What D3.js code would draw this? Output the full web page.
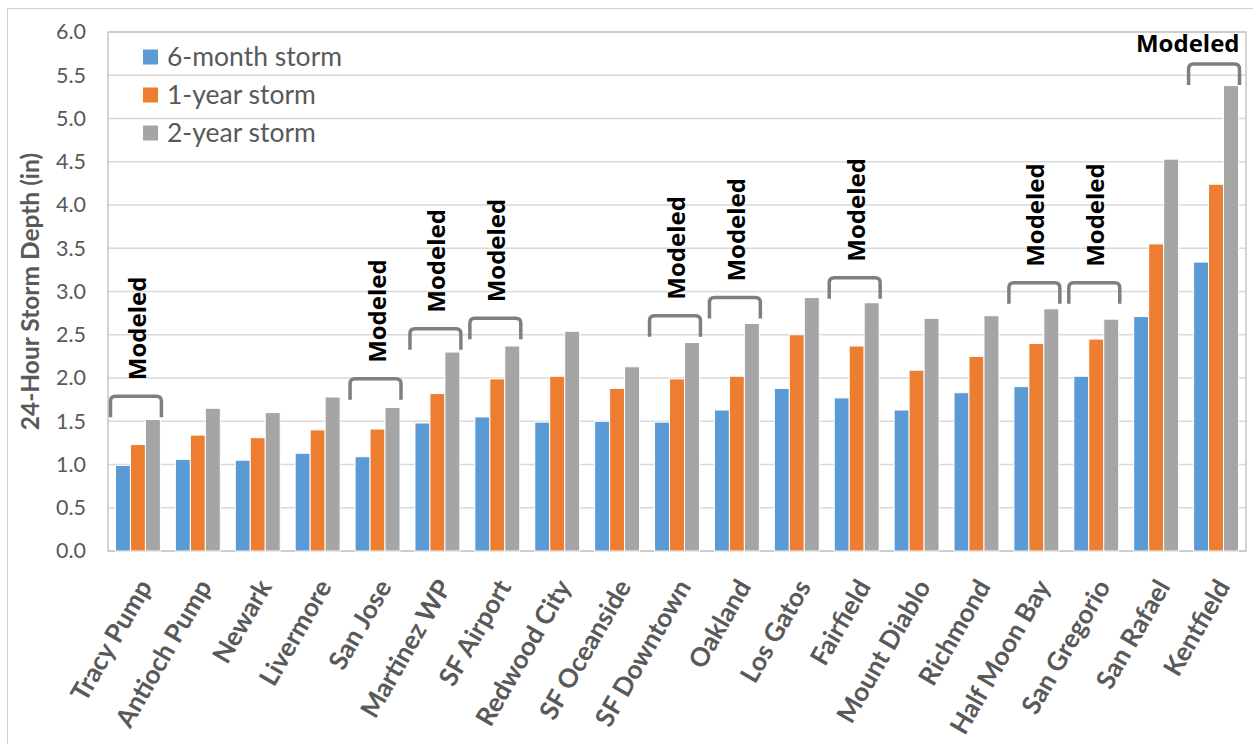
<!DOCTYPE html>
<html><head><meta charset="utf-8">
<script src="https://cdn.jsdelivr.net/npm/d3@7"></script>
<style>html,body{margin:0;padding:0;background:#fff;overflow:hidden}</style>
</head><body>
<svg id="chart" width="1253" height="744"></svg>
<script>
const categories = ["Tracy Pump","Antioch Pump","Newark","Livermore","San Jose","Martinez WP","SF Airport","Redwood City","SF Oceanside","SF Downtown","Oakland","Los Gatos","Fairfield","Mount Diablo","Richmond","Half Moon Bay","San Gregorio","San Rafael","Kentfield"];
const seriesNames = ["6-month storm","1-year storm","2-year storm"];
const sixMonth = [0.99,1.06,1.05,1.13,1.09,1.48,1.55,1.49,1.50,1.49,1.63,1.88,1.77,1.63,1.83,1.90,2.02,2.71,3.34];
const oneYear  = [1.23,1.34,1.31,1.40,1.41,1.82,1.99,2.02,1.88,1.99,2.02,2.50,2.37,2.09,2.25,2.40,2.45,3.55,4.24];
const twoYear  = [1.52,1.65,1.60,1.78,1.66,2.30,2.37,2.54,2.13,2.41,2.63,2.93,2.87,2.69,2.72,2.80,2.68,4.53,5.38];
const yTicks = [0,0.5,1,1.5,2,2.5,3,3.5,4,4.5,5,5.5,6];
const modeledSites = ["Tracy Pump","San Jose","Martinez WP","SF Airport","SF Downtown","Oakland","Fairfield","Half Moon Bay","San Gregorio","Kentfield"];
const modeledLevel = [1.79,1.99,2.57,2.69,2.72,2.93,3.16,3.10,3.10,5.63];
const modeledLabel = "Modeled";
const yTitle = "24-Hour Storm Depth (in)";
const colors = ["#5b9bd5","#ed7d31","#a5a5a5"];

const values = [sixMonth, oneYear, twoYear];
const rows = categories.map((c,i)=>({cat:c, vals: values.map((v,k)=>({k, v:v[i]}))}));

const svg = d3.select("#chart");
const L=108, R=1246, T=32, B=551;

svg.append("rect").attr("x",7.5).attr("y",8.5).attr("width",1300).attr("height",800)
  .attr("fill","none").attr("stroke","#d0d0d0").attr("stroke-width",1);

const x0 = d3.scaleBand().domain(categories).range([L,R]).paddingInner(0.25).paddingOuter(0.125);
const x1 = d3.scaleBand().domain([0,1,2]).range([0,x0.bandwidth()]);
const y = d3.scaleLinear().domain([0,6]).range([B,T]);

svg.append("g").selectAll("line").data(yTicks).join("line")
  .attr("x1",L).attr("x2",R).attr("y1",d=>y(d)).attr("y2",d=>y(d))
  .attr("stroke","#d9d9d9").attr("stroke-width",1.5);

svg.append("rect").attr("x",L).attr("y",T).attr("width",R-L).attr("height",B-T)
  .attr("fill","none").attr("stroke","#c6c6c6").attr("stroke-width",1.5);

const yAxis = d3.axisLeft(y).tickValues(yTicks).tickSize(0).tickPadding(22).tickFormat(d3.format(".1f"));
const ya = svg.append("g").attr("transform",`translate(${L},0)`).call(yAxis);
ya.select(".domain").remove();
ya.selectAll("text").attr("font-family","Lato, 'Open Sans', sans-serif").attr("font-size",21.5).attr("fill","#595959");

const g = svg.append("g").selectAll("g").data(rows).join("g")
  .attr("transform",d=>`translate(${x0(d.cat)},0)`);
g.selectAll("rect").data(d=>d.vals).join("rect")
  .attr("x",d=>x1(d.k)).attr("width",x1.bandwidth())
  .attr("y",d=>y(d.v)).attr("height",d=>B-y(d.v))
  .attr("fill",d=>colors[d.k]).attr("stroke","#fff").attr("stroke-width",1);

svg.append("g").selectAll("text").data(categories).join("text")
  .attr("transform",d=>`translate(${x0(d)+x0.bandwidth()/2+7},582) rotate(-60)`)
  .attr("text-anchor","end").attr("dy","0.35em")
  .attr("font-family","Lato, 'Open Sans', sans-serif").attr("font-weight","bold")
  .attr("font-size",26).attr("fill","#595959").text(d=>d);

svg.append("text").attr("transform",`translate(39,${(T+B)/2}) rotate(-90)`)
  .attr("text-anchor","middle").attr("font-family","Lato, 'Open Sans', sans-serif")
  .attr("font-weight","bold").attr("font-size",24.5).attr("fill","#595959").text(yTitle);

const lg = svg.append("g").selectAll("g").data(seriesNames).join("g")
  .attr("transform",(d,i)=>`translate(143,${57+i*38})`);
lg.append("rect").attr("x",0).attr("y",-7.5).attr("width",15).attr("height",15).attr("fill",(d,i)=>colors[i]);
lg.append("text").attr("x",24).attr("dy","0.35em").attr("font-family","Lato, 'Open Sans', sans-serif")
  .attr("font-size",26.5).attr("fill","#595959").text(d=>d);

const leg = 21, rad = 5;
modeledSites.forEach((s,i)=>{
  const xa = x0(s)-5, xb = x0(s)+x0.bandwidth()+1, yt = y(modeledLevel[i]);
  const p = d3.path();
  p.moveTo(xa, yt+leg); p.lineTo(xa, yt+rad); p.quadraticCurveTo(xa, yt, xa+rad, yt);
  p.lineTo(xb-rad, yt); p.quadraticCurveTo(xb, yt, xb, yt+rad); p.lineTo(xb, yt+leg);
  svg.append("path").attr("d",p.toString()).attr("fill","none").attr("stroke","#7f7f7f").attr("stroke-width",3.5);
  const cx = x0(s)+x0.bandwidth()/2;
  const t = svg.append("text").attr("font-family","'Open Sans', sans-serif").attr("font-weight","bold")
    .attr("font-size",24).attr("fill","#000").text(modeledLabel);
  if (i === modeledSites.length-1) {
    t.attr("x", x0(s)+x0.bandwidth()+1).attr("y", yt-12).attr("text-anchor","end");
  } else {
    t.attr("transform",`translate(${cx+8},${yt-16}) rotate(-90)`).attr("text-anchor","start");
  }
});
</script>
</body></html>
